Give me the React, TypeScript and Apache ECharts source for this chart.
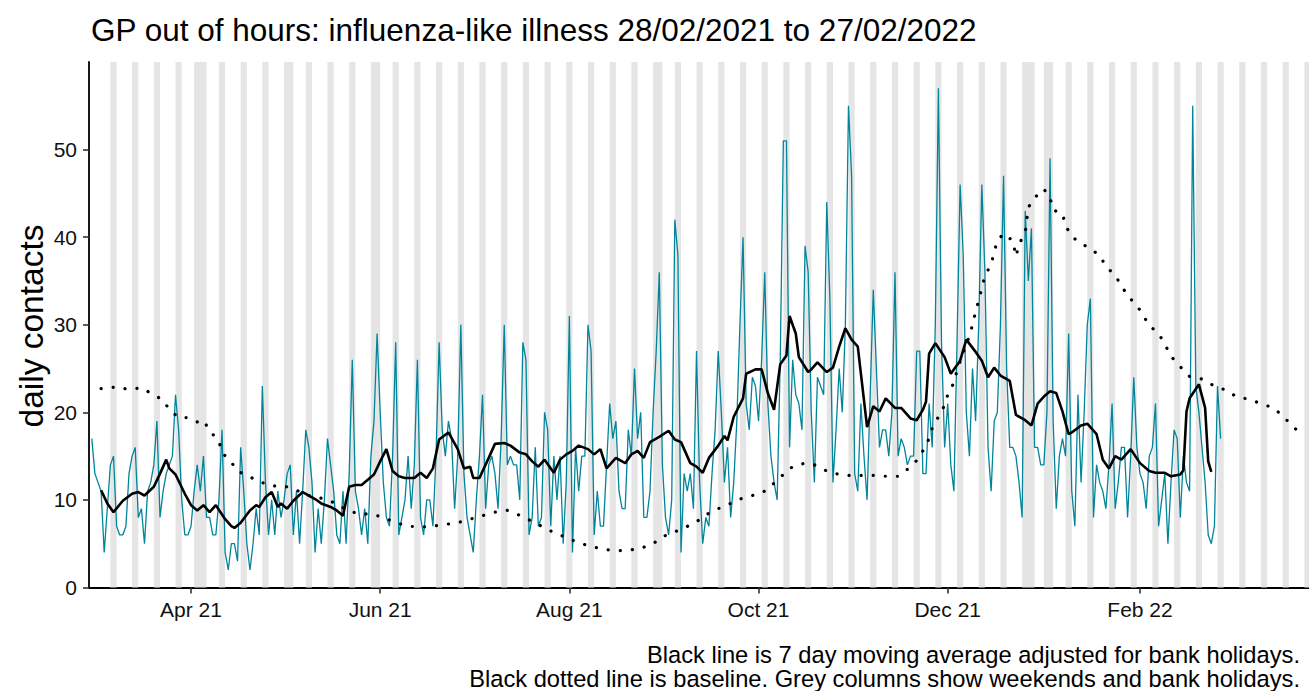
import React, { useEffect, useRef } from 'react';
import * as echarts from 'echarts';

// ---- data ----
const startDate = '2021-02-28';

// daily contacts, one per day from 28/02/2021 (rows: Sun..Sat)
const contacts = [
  17, 13, 12, 11, 4, 9, 14,
  15, 7, 6, 6, 7, 13, 15,
  16, 8, 9, 5, 11, 12, 14,
  19, 8, 11, 13, 14, 15, 22,
  18, 10, 6, 6, 7, 11, 14,
  11, 15, 8, 8, 6, 6, 10,
  18, 4, 2, 5, 5, 3, 16,
  11, 5, 2, 5, 9, 6, 23,
  12, 6, 10, 6, 11, 8, 10,
  13, 14, 6, 11, 5, 11, 18,
  16, 12, 4, 9, 5, 10, 17,
  14, 11, 6, 5, 11, 5, 13,
  26, 11, 9, 6, 9, 5, 15,
  19, 29, 20, 12, 8, 7, 15,
  28, 6, 8, 10, 15, 9, 14,
  26, 8, 6, 10, 10, 7, 15,
  28, 18, 15, 19, 17, 9, 15,
  30, 13, 8, 6, 4, 10, 15,
  22, 9, 14, 15, 13, 9, 17,
  30, 14, 15, 14, 14, 10, 28,
  26, 6, 8, 16, 7, 8, 20,
  18, 7, 15, 10, 15, 5, 12,
  31, 4, 16, 11, 15, 15, 30,
  27, 6, 11, 7, 7, 14, 21,
  17, 19, 11, 9, 9, 18, 15,
  25, 17, 20, 8, 8, 11, 20,
  27, 36, 14, 8, 6, 10, 42,
  38, 4, 13, 11, 13, 9, 27,
  12, 5, 8, 7, 13, 18, 27,
  20, 12, 16, 8, 12, 19, 30,
  40, 21, 18, 24, 23, 19, 26,
  36, 21, 15, 12, 10, 26, 51,
  51, 16, 26, 22, 21, 18, 39,
  36, 20, 12, 24, 23, 22, 44,
  33, 12, 18, 25, 20, 30, 55,
  47, 13, 11, 21, 15, 10, 22,
  34, 25, 16, 18, 18, 15, 20,
  36, 15, 17, 16, 14, 15, 15,
  27, 27, 13, 13, 21, 16, 30,
  57, 28, 16, 21, 14, 11, 28,
  46, 38, 20, 15, 25, 19, 30,
  46, 36, 16, 11, 19, 20, 30,
  47, 25, 16, 16, 15, 12, 8,
  43, 35, 41, 16, 16, 14, 14,
  20, 49, 19, 9, 15, 17, 15,
  29, 11, 7, 22, 12, 20, 30,
  33, 8, 14, 12, 11, 9, 14,
  21, 9, 12, 16, 16, 8, 15,
  24, 16, 13, 12, 9, 15, 16,
  21, 7, 10, 13, 5, 12, 18,
  17, 8, 15, 12, 11, 55, 23,
  20, 16, 12, 6, 5, 7, 23,
  17,
];

// 7 day moving average (day offset from start date, value)
const maDay = [
  3, 5, 7, 10, 13, 15, 17, 20, 22, 24, 25, 27, 30, 32, 34, 36, 38, 40, 43, 45, 46, 48, 51, 53, 54, 56, 58, 60, 61, 63,
  65, 68, 72, 74, 77, 79, 81, 83, 85, 87, 89, 91, 93, 95, 97, 99, 101, 104, 106, 108, 110, 112, 115, 118, 120, 122, 123, 125, 128, 130,
  133, 135, 138, 140, 142, 144, 146, 149, 151, 153, 155, 157, 160, 162, 164, 166, 167, 169, 172, 174, 176, 178, 180, 183, 186, 188, 190, 193, 195, 197,
  199, 202, 204, 205, 207, 210, 211, 214, 216, 218, 220, 222, 224, 225, 227, 228, 231, 232, 234, 237, 239, 241, 243, 245, 247, 250, 252, 254, 256, 259,
  261, 264, 266, 268, 269, 270, 272, 275, 277, 280, 282, 285, 287, 289, 291, 293, 296, 298, 301, 303, 305, 307, 309, 311, 313, 315, 316, 319, 321, 324,
  326, 328, 330, 332, 335, 338, 341, 343, 346, 348, 351, 352, 353, 354, 357, 359, 360, 361,
];
const maValue = [
  11.1, 9.6, 8.6, 9.9, 10.7, 10.9, 10.5, 11.5, 13.0, 14.6, 13.6, 12.9, 10.7, 9.4, 8.8, 9.4, 8.6, 9.4, 7.8, 7.0, 6.8, 7.4, 8.8, 9.4, 9.2, 10.3, 10.9, 9.2, 9.6, 9.0,
  9.9, 10.9, 10.1, 9.6, 9.2, 8.8, 8.2, 11.5, 11.7, 11.7, 12.3, 12.9, 14.4, 15.8, 13.3, 12.7, 12.5, 12.5, 13.1, 12.5, 13.6, 16.9, 17.7, 15.8, 13.6, 13.8, 12.5, 12.5, 14.8, 16.4,
  16.5, 16.2, 15.4, 15.2, 14.4, 13.8, 14.6, 13.1, 14.6, 15.2, 15.6, 16.2, 15.8, 15.2, 15.8, 13.6, 14.0, 14.8, 14.2, 15.2, 15.6, 14.8, 16.6, 17.2, 17.9, 16.9, 16.6, 14.2, 13.8, 13.1,
  14.8, 16.2, 17.3, 16.8, 19.5, 21.6, 24.4, 24.9, 24.9, 22.2, 20.3, 25.5, 26.5, 31.0, 29.0, 26.3, 24.6, 24.9, 25.7, 24.6, 25.1, 27.5, 29.6, 28.3, 27.5, 18.3, 20.7, 20.1, 21.6, 20.5,
  20.5, 19.3, 19.1, 20.3, 21.2, 26.7, 27.9, 26.3, 24.4, 25.9, 28.3, 26.9, 25.9, 24.0, 25.1, 24.2, 23.6, 19.7, 19.1, 18.5, 21.0, 21.8, 22.4, 22.2, 20.1, 17.5, 17.7, 18.5, 18.7, 17.5,
  14.6, 13.6, 15.0, 14.6, 15.8, 14.2, 13.3, 13.1, 13.1, 12.7, 12.9, 13.4, 20.1, 21.6, 23.2, 20.5, 14.4, 13.2,
];

// baseline (day offset from start date, value)
const baseDay = [
  3, 8, 12, 16, 19, 23, 25, 28, 31, 34, 36, 38, 41, 42, 45, 47, 50, 54, 58, 62, 66, 70, 74, 78, 82, 86, 90, 94, 98, 102,
  106, 110, 114, 118, 122, 126, 130, 134, 137, 140, 144, 147, 151, 155, 158, 162, 166, 170, 174, 178, 181, 184, 187, 191, 195, 198, 202, 206, 209, 213,
  217, 220, 223, 226, 230, 233, 237, 241, 244, 248, 252, 256, 260, 263, 266, 268, 270, 271, 273, 275, 276, 278, 279, 281, 283, 284, 285, 286, 287, 288,
  290, 291, 292, 294, 297, 298, 299, 301, 302, 304, 307, 309, 310, 313, 314, 316, 318, 322, 325, 327, 330, 332, 334, 337, 339, 341, 344, 346, 348, 351,
  354, 358, 362, 366, 369, 373, 377, 381, 384, 387, 390,
];
const baseValue = [
  22.7, 22.9, 22.6, 22.8, 22.2, 21.4, 20.3, 19.4, 19.4, 18.9, 19.1, 17.9, 16.7, 15.4, 14.3, 13.3, 12.8, 12.1, 11.6, 11.6, 11.1, 10.5, 10.2, 9.7, 8.9, 8.4, 8.4, 8.0, 7.4, 7.0,
  6.9, 7.0, 7.2, 7.4, 7.8, 8.2, 8.6, 8.8, 8.4, 7.9, 7.2, 6.6, 6.0, 5.4, 5.0, 4.6, 4.3, 4.2, 4.3, 4.6, 5.0, 5.8, 6.2, 6.8, 7.5, 8.3, 9.0, 9.6, 10.1, 10.5,
  11.0, 11.9, 12.9, 13.8, 14.2, 14.0, 13.3, 12.9, 12.8, 12.8, 12.8, 12.7, 12.7, 13.5, 14.5, 15.6, 17.0, 18.2, 19.5, 20.8, 22.0, 23.4, 24.8, 26.8, 28.7, 30.0, 31.5, 32.8, 34.2, 35.6,
  36.9, 38.3, 39.6, 40.4, 39.6, 37.8, 39.2, 40.5, 43.4, 44.5, 45.5, 44.5, 43.1, 42.7, 41.3, 40.1, 39.5, 38.7, 37.9, 36.7, 35.6, 34.5, 33.3, 32.2, 31.1, 29.9, 29.0, 27.8, 26.4, 25.2,
  24.1, 23.8, 23.0, 22.5, 21.8, 21.5, 21.0, 20.5, 19.6, 18.5, 17.5,
];

const bankHolidays = ['2021-04-02', '2021-04-05', '2021-05-03', '2021-05-31', '2021-08-30', '2021-12-27', '2021-12-28', '2022-01-03'];
const shadeFrom = '2021-03-01';
const shadeTo = '2022-03-27';

const tickDates = ['2021-04-01', '2021-06-01', '2021-08-01', '2021-10-01', '2021-12-01', '2022-02-01'];
const tickLabels = ['Apr 21', 'Jun 21', 'Aug 21', 'Oct 21', 'Dec 21', 'Feb 22'];
const yTicks = [0, 10, 20, 30, 40, 50];

const titleText = 'GP out of hours: influenza-like illness 28/02/2021 to 27/02/2022';
const yTitle = 'daily contacts';
const captionLines = [
  'Black line is 7 day moving average adjusted for bank holidays.',
  'Black dotted line is baseline. Grey columns show weekends and bank holidays.',
];

// ---- helpers (x axis is days since startDate) ----
const DAY = 86400000;
const ts = (s: string) => Date.parse(s + 'T00:00:00Z');
const t0 = ts(startDate);
const dayOf = (s: string) => Math.round((ts(s) - t0) / DAY);
const tickDays = tickDates.map(dayOf);

function shadeIntervals() {
  const hol = new Set(bankHolidays.map(dayOf));
  const out: [number, number][] = [];
  for (let d = dayOf(shadeFrom); d <= dayOf(shadeTo); d++) {
    const dow = new Date(t0 + d * DAY).getUTCDay();
    if (dow === 0 || dow === 6 || hol.has(d)) {
      const last = out[out.length - 1];
      if (last && last[1] === d) last[1] = d + 1;
      else out.push([d, d + 1]);
    }
  }
  return out;
}

const FONT = 'Liberation Sans, Arial, sans-serif';

export default function App() {
  const ref = useRef<HTMLDivElement>(null);
  useEffect(() => {
    const chart = echarts.init(ref.current!, null, { renderer: 'svg' });
    const apr1 = dayOf('2021-04-01');
    const xMin = apr1 - 32.9;
    const xMax = apr1 + 360.5;
    const option: any = {
      animation: false,
      backgroundColor: '#ffffff',
      grid: { left: 89, right: 0, top: 62, bottom: 103.5, containLabel: false },
      xAxis: {
        type: 'value',
        min: xMin,
        max: xMax,
        axisLine: { show: true, onZero: false, lineStyle: { color: '#000', width: 1.8 } },
        axisTick: { show: true, customValues: tickDays, length: 6, lineStyle: { color: '#333', width: 1.6 } },
        axisLabel: {
          customValues: tickDays,
          formatter: (v: number) => {
            const i = tickDays.indexOf(Math.round(v));
            return i >= 0 ? tickLabels[i] : '';
          },
          fontFamily: FONT,
          fontSize: 21,
          color: '#111',
          margin: 11,
        },
        splitLine: { show: false },
      },
      yAxis: {
        type: 'value',
        min: 0,
        max: 60,
        axisLine: { show: true, onZero: false, lineStyle: { color: '#000', width: 1.8 } },
        axisTick: { show: true, customValues: yTicks, length: 6, lineStyle: { color: '#333', width: 1.6 } },
        axisLabel: { customValues: yTicks, fontFamily: FONT, fontSize: 21, color: '#111', margin: 12 },
        splitLine: { show: false },
      },
      graphic: [
        {
          type: 'text', x: 91, y: 30,
          style: { text: titleText, fontFamily: FONT, fontSize: 31.5, fill: '#000', align: 'left', verticalAlign: 'middle' },
        },
        {
          type: 'text', x: 31, y: 326, rotation: Math.PI / 2,
          style: { text: yTitle, fontFamily: FONT, fontSize: 33.5, fill: '#000', align: 'center', verticalAlign: 'middle' },
        },
        {
          type: 'text', x: 1300, y: 655,
          style: { text: captionLines[0], fontFamily: FONT, fontSize: 23.7, lineHeight: 23.7, fill: '#000', align: 'right', verticalAlign: 'middle' },
        },
        {
          type: 'text', x: 1300, y: 679,
          style: { text: captionLines[1], fontFamily: FONT, fontSize: 23.7, lineHeight: 23.7, fill: '#000', align: 'right', verticalAlign: 'middle' },
        },
      ],
      series: [
        {
          name: 'contacts',
          type: 'line',
          z: 2,
          showSymbol: false,
          silent: true,
          data: contacts.map((v, i) => [i, v]),
          lineStyle: { color: '#00859B', width: 1.3 },
          markArea: {
            silent: true,
            itemStyle: { color: '#E5E5E5', opacity: 1 },
            data: shadeIntervals().map(([a, b]) => [{ xAxis: a }, { xAxis: b }]),
          },
        },
        {
          name: 'baseline',
          type: 'line',
          z: 3,
          showSymbol: false,
          silent: true,
          data: baseDay.map((d, i) => [d, baseValue[i]]),
          lineStyle: { color: '#000', width: 3.2, type: [0.1, 12], cap: 'round' },
        },
        {
          name: 'moving average',
          type: 'line',
          z: 4,
          showSymbol: false,
          silent: true,
          data: maDay.map((d, i) => [d, maValue[i]]),
          lineStyle: { color: '#000', width: 2.6 },
        },
      ],
    };
    chart.setOption(option);
    return () => chart.dispose();
  }, []);
  return (
    <div
      ref={ref}
      style={{ position: 'fixed', left: 0, top: 0, width: 1309, height: 691, background: '#fff' }}
    />
  );
}
